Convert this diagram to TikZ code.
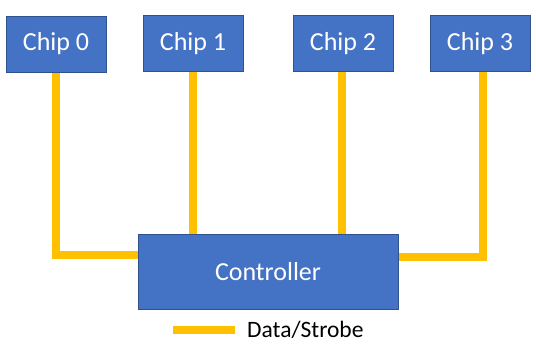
\documentclass[tikz,border=0pt]{standalone}
\usepackage{fontspec}
\setmainfont{Carlito}
\pgfdeclarelayer{bg}
\pgfsetlayers{bg,main}
\begin{document}
\begin{tikzpicture}[x=1pt,y=-1pt,
  box/.style={draw=boxedge,fill=boxblue,line width=1pt,text=white,inner sep=0pt,
    font=\fontsize{26}{30}\selectfont},
  chipbox/.style={box,minimum width=100pt,minimum height=56pt},
  bus/.style={draw=busyellow,line width=8pt,line join=miter}]
\definecolor{boxblue}{HTML}{4472C4}
\definecolor{boxedge}{HTML}{2F528F}
\definecolor{busyellow}{HTML}{FFC000}
\useasboundingbox (0,0) rectangle (536,356);
% nodes
\node[chipbox] (c0) at (56,44) {Chip 0};
\node[chipbox] (c1) at (193,43.5) {Chip 1};
\node[chipbox] (c2) at (343,43.5) {Chip 2};
\node[chipbox] (c3) at (480,43.5) {Chip 3};
\node[box,minimum width=260pt,minimum height=75pt] (ctrl) at (268,271.5) {Controller};
% junction coordinates
\coordinate (j0) at (56,254.5);
\coordinate (j3) at (483,257);
\coordinate (s3) at (483,72);
\coordinate (s2) at (342,72);
% buses (behind boxes)
\begin{pgfonlayer}{bg}
\path[bus] (c0.south) -- (j0) -- (j0 -| ctrl.west);
\path[bus] (c1.south) -- (c1.south |- ctrl.north);
\path[bus] (s2) -- (s2 |- ctrl.north);
\path[bus] (s3) -- (j3) -- (j3 -| ctrl.east);
\end{pgfonlayer}
% legend
\coordinate (l0) at (173,330);
\coordinate (l1) at (235,330);
\path[bus,line cap=butt] (l0) -- (l1);
\node[anchor=west,inner sep=0pt,font=\fontsize{23.5}{28}\selectfont] (leg) at (247,330) {Data/Strobe};
\end{tikzpicture}
\end{document}
